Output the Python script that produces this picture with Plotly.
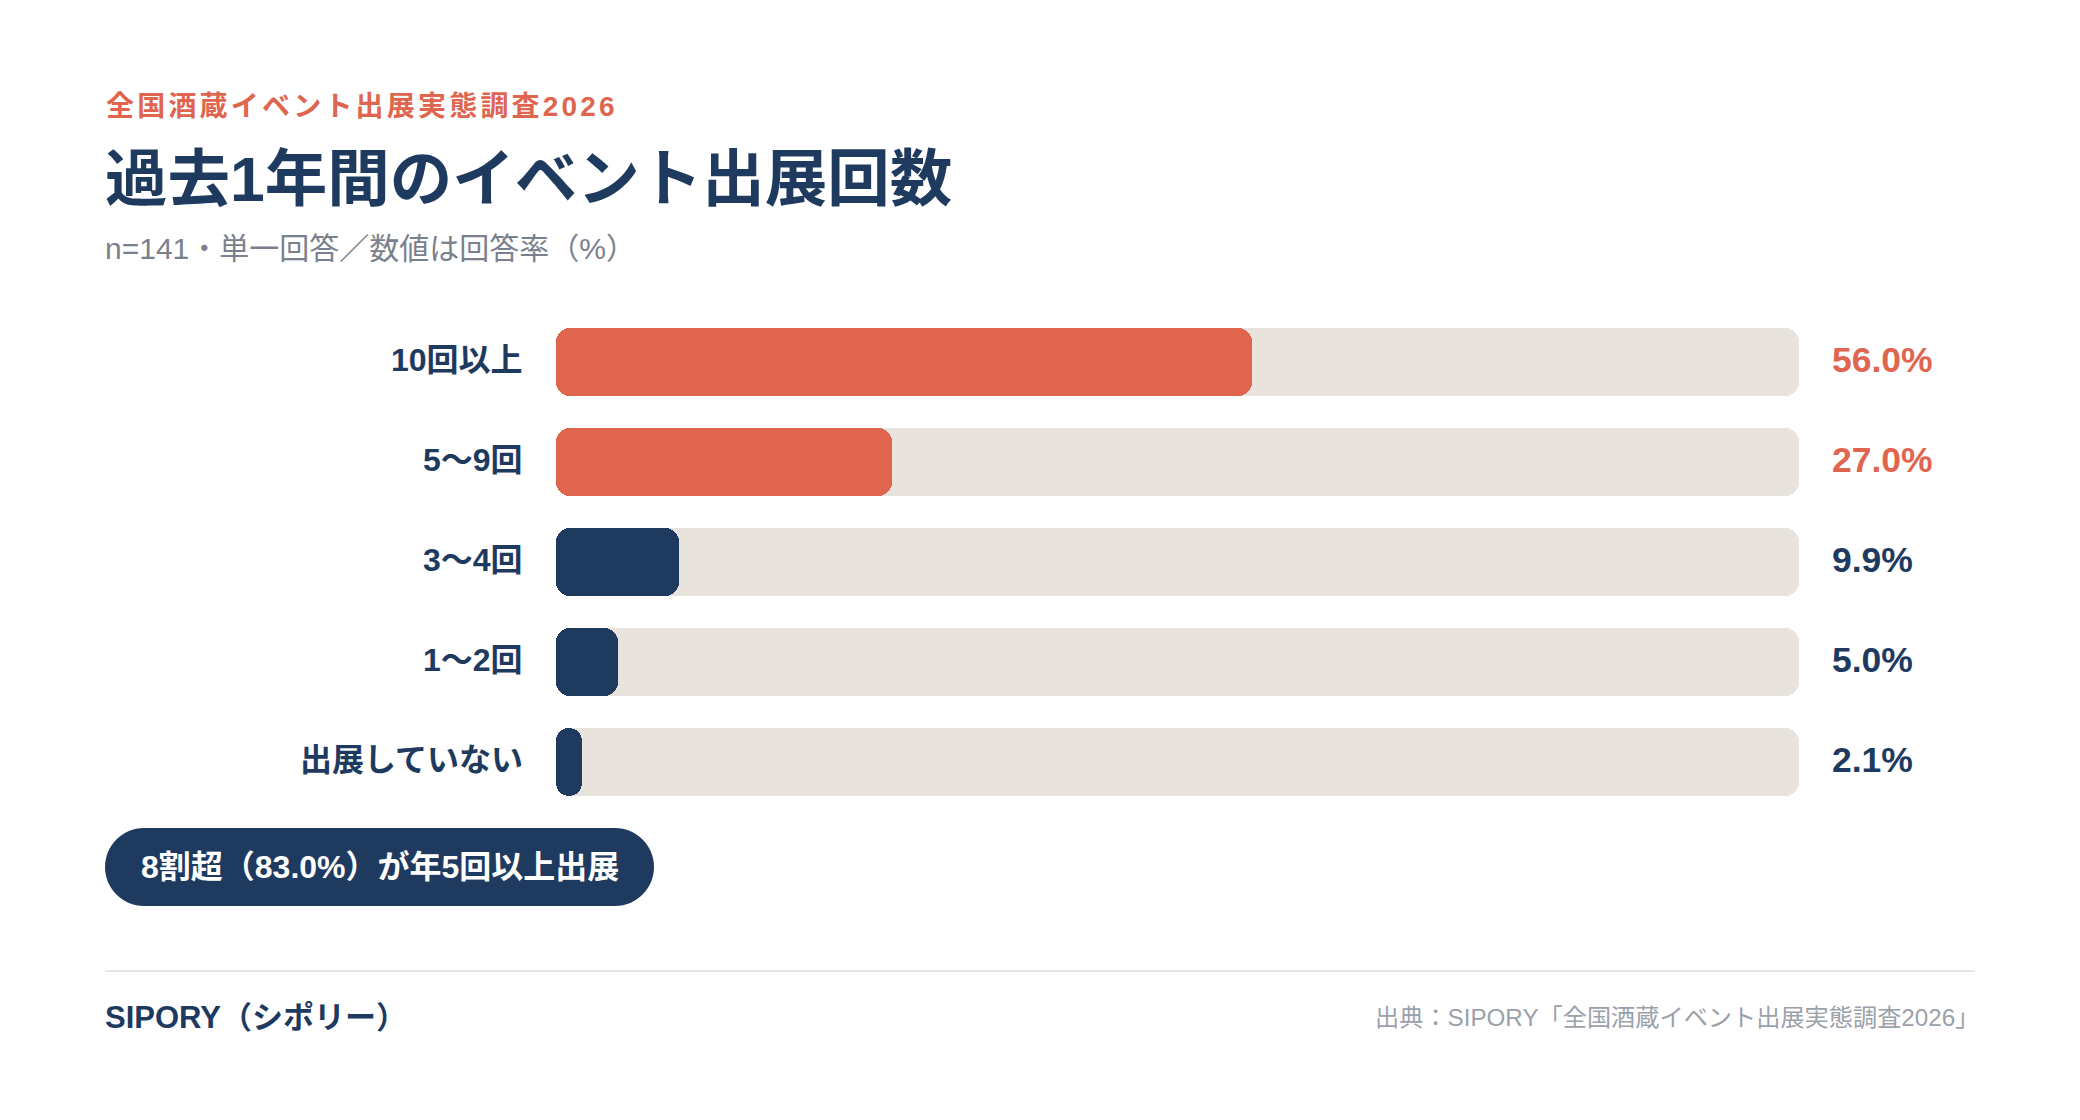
import plotly.graph_objects as go

# ---------------- data ----------------
categories = ["10回以上", "5〜9回", "3〜4回", "1〜2回", "出展していない"]
values = [56.0, 27.0, 9.9, 5.0, 2.1]
value_labels = ["56.0%", "27.0%", "9.9%", "5.0%", "2.1%"]
highlight = [True, True, False, False, False]
track_max = 100

kicker = "全国酒蔵イベント出展実態調査2026"
title = "過去1年間のイベント出展回数"
subtitle = "n=141・単一回答／数値は回答率（%）"
badge_text = "8割超（83.0%）が年5回以上出展"
brand = "SIPORY（シポリー）"
source = "出典：SIPORY「全国酒蔵イベント出展実態調査2026」"

# ---------------- style ----------------
ORANGE = "#E0654F"
NAVY = "#1F3A5F"
TRACK = "#E8E3DC"
GRAY = "#7A818C"
LIGHTGRAY = "#9BA1AA"
FONT = "Liberation Sans, Noto Sans CJK JP, sans-serif"

W, H = 2080, 1120
L, R, T, B = 556, 281, 312, 308
PW = W - L - R
PH = H - T - B


def px(x):
    return (x - L) / PW


def py(y):
    return (H - B - y) / PH


n = len(categories)
colors = [ORANGE if h else NAVY for h in highlight]
RADIUS = 14
BAR_W = 0.68

fig = go.Figure()

# background tracks
fig.add_trace(go.Bar(
    y=categories, x=[track_max] * n, base=[0] * n,
    orientation="h", width=BAR_W,
    marker=dict(color=TRACK, cornerradius=RADIUS, line=dict(width=0)),
    hoverinfo="skip", showlegend=False))

# value bars
fig.add_trace(go.Bar(
    y=categories, x=values, base=[0] * n,
    orientation="h", width=BAR_W,
    marker=dict(color=colors, cornerradius=RADIUS, line=dict(width=0)),
    customdata=value_labels, hovertemplate="%{y}: %{customdata}<extra></extra>",
    showlegend=False))

annotations = []
# category labels
for cat in categories:
    annotations.append(dict(
        x=0, xref="x", y=cat, yref="y", xanchor="right", yanchor="middle",
        xshift=-31, yshift=2, text=cat, showarrow=False,
        font=dict(family=FONT, size=32, color=NAVY, weight="bold")))
# value labels
for cat, lab, c in zip(categories, value_labels, colors):
    annotations.append(dict(
        x=track_max, xref="x", y=cat, yref="y", xanchor="left", yanchor="middle",
        xshift=31, yshift=2, text=lab, showarrow=False,
        font=dict(family=FONT, size=35.5, color=c, weight="bold")))

# header texts
annotations.append(dict(x=px(104), y=py(106), xref="paper", yref="paper",
                        xanchor="left", yanchor="middle", text=kicker, showarrow=False,
                        font=dict(family=FONT, size=28, color=ORANGE, weight="bold")))
annotations.append(dict(x=px(103), y=py(179), xref="paper", yref="paper",
                        xanchor="left", yanchor="middle", text=title, showarrow=False,
                        font=dict(family=FONT, size=62.5, color=NAVY, weight="bold")))
annotations.append(dict(x=px(103), y=py(248), xref="paper", yref="paper",
                        xanchor="left", yanchor="middle", text=subtitle, showarrow=False,
                        font=dict(family=FONT, size=30, color=GRAY)))
# badge text
annotations.append(dict(x=px(379.5), y=py(867), xref="paper", yref="paper",
                        xanchor="center", yanchor="middle", text=badge_text, showarrow=False,
                        font=dict(family=FONT, size=32, color="white", weight="bold")))
# footer
annotations.append(dict(x=px(103), y=py(1017), xref="paper", yref="paper",
                        xanchor="left", yanchor="middle", text=brand, showarrow=False,
                        font=dict(family=FONT, size=31, color=NAVY, weight="bold")))
annotations.append(dict(x=px(1981), y=py(1017), xref="paper", yref="paper",
                        xanchor="right", yanchor="middle", text=source, showarrow=False,
                        font=dict(family=FONT, size=24.2, color=LIGHTGRAY)))

# pill badge path (pixel units, centred on anchor)
bw, bh = 549, 78
r = bh / 2
hx = bw / 2 - r
k = 0.5523 * r
pill = (f"M {-hx},{-r} L {hx},{-r} "
        f"C {hx + k},{-r} {hx + r},{-k} {hx + r},0 "
        f"C {hx + r},{k} {hx + k},{r} {hx},{r} "
        f"L {-hx},{r} "
        f"C {-hx - k},{r} {-hx - r},{k} {-hx - r},0 "
        f"C {-hx - r},{-k} {-hx - k},{-r} {-hx},{-r} Z")

shapes = [
    dict(type="path", xref="paper", yref="paper", xsizemode="pixel", ysizemode="pixel",
         xanchor=px(379.5), yanchor=py(867), path=pill,
         fillcolor=NAVY, line=dict(width=0), layer="below"),
    dict(type="line", xref="paper", yref="paper", x0=px(105), x1=px(1975),
         y0=py(971), y1=py(971), line=dict(color="#E5E5E5", width=2)),
]

fig.update_layout(
    width=W, height=H, autosize=False,
    margin=dict(l=L, r=R, t=T, b=B, pad=0),
    paper_bgcolor="white", plot_bgcolor="white",
    barmode="overlay", bargap=0,
    showlegend=False,
    annotations=annotations, shapes=shapes,
    xaxis=dict(range=[0, track_max], visible=False, fixedrange=True),
    yaxis=dict(type="category", categoryorder="array", categoryarray=categories,
               range=[n - 0.5, -0.5], showgrid=False, zeroline=False, showline=False,
               ticks="", showticklabels=False, fixedrange=True),
    font=dict(family=FONT),
)

# add the kicker's letter spacing, keeping its left edge fixed
post = """
var gd = document.getElementById('{plot_id}');
gd.querySelectorAll('.annotation-text').forEach(function(t){
  if (t.textContent === %s) {
    var bb = t.getBBox();
    t.setAttribute('text-anchor', 'start');
    t.setAttribute('x', bb.x);
    t.style.letterSpacing = '3.2px';
  }
});
""" % repr(kicker).replace("'", '"')

fig.write_html("out.html", config={"displayModeBar": False}, post_script=post)
